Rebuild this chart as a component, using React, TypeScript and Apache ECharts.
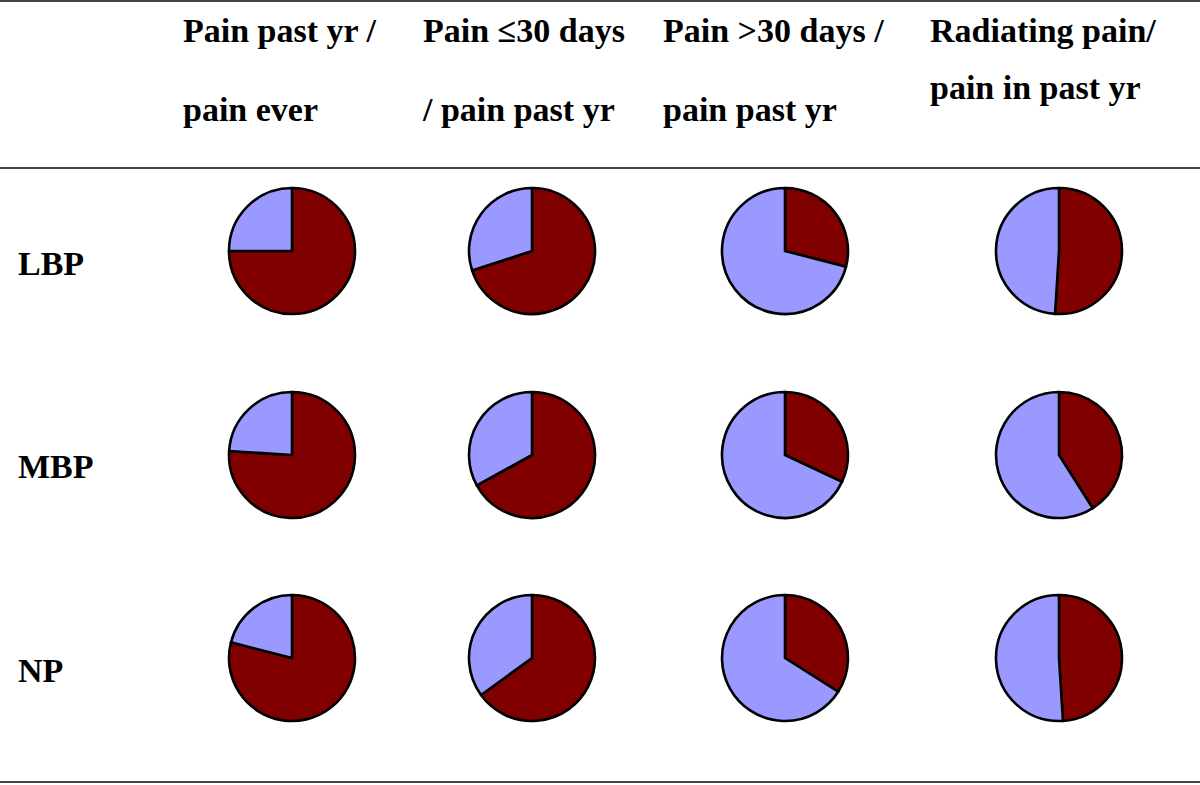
import React, { useEffect, useRef } from "react";
import * as echarts from "echarts";

const headerLine1 = ["Pain past yr /", "Pain \u226430 days", "Pain >30 days /", "Radiating pain/"];
const headerLine2 = ["pain ever", "/ pain past yr", "pain past yr", "pain in past yr"];
const rowLabels = ["LBP", "MBP", "NP"];
// percentage "yes" (dark red) for each column
const lbpValues = [75, 70, 29, 51];
const mbpValues = [76, 67, 32, 41];
const npValues = [79, 65, 34, 49];

const rowValues = [lbpValues, mbpValues, npValues];
const colX = [292, 532, 785, 1059];
const rowY = [251, 455, 658];
const headerX = [183, 423, 663, 930];

export default function App() {
  const ref = useRef<HTMLDivElement>(null);
  useEffect(() => {
    document.body.style.margin = "0";
    const chart = echarts.init(ref.current!, null, { renderer: "svg" });
    const series: any[] = [];
    rowValues.forEach((vals, r) => {
      vals.forEach((v, c) => {
        series.push({
          type: "pie",
          name: rowLabels[r] + " " + (c + 1),
          center: [colX[c], rowY[r]],
          radius: 63,
          startAngle: 90,
          clockwise: true,
          label: { show: false },
          labelLine: { show: false },
          emphasis: { disabled: true },
          silent: true,
          itemStyle: { borderColor: "#000", borderWidth: 2.6 },
          data: [
            { value: v, name: "yes", itemStyle: { color: "#800000" } },
            { value: 100 - v, name: "no", itemStyle: { color: "#9999FF" } },
          ],
        });
      });
    });
    const textStyle = (t: string) => ({
      text: t,
      fontFamily: "Liberation Serif",
      fontSize: 34,
      fontWeight: "bold",
      fill: "#000",
      textVerticalAlign: "middle",
    });
    const graphics: any[] = [];
    headerLine1.forEach((t, i) => {
      graphics.push({ type: "text", x: headerX[i], y: 30, style: textStyle(t) });
      graphics.push({ type: "text", x: headerX[i], y: i === 3 ? 87 : 109, style: textStyle(headerLine2[i]) });
    });
    const labelY = [263, 466, 670];
    rowLabels.forEach((t, i) => {
      graphics.push({ type: "text", x: 18, y: labelY[i], style: textStyle(t) });
    });
    [1, 168, 782].forEach((y) => {
      graphics.push({ type: "line", shape: { x1: 0, y1: y, x2: 1200, y2: y }, style: { stroke: "#444", lineWidth: 2 } });
    });
    chart.setOption({
      animation: false,
      backgroundColor: "#fff",
      series,
      graphic: graphics,
    });
    return () => chart.dispose();
  }, []);
  return <div ref={ref} style={{ position: "fixed", left: 0, top: 0, width: 1200, height: 785 }} />;
}
